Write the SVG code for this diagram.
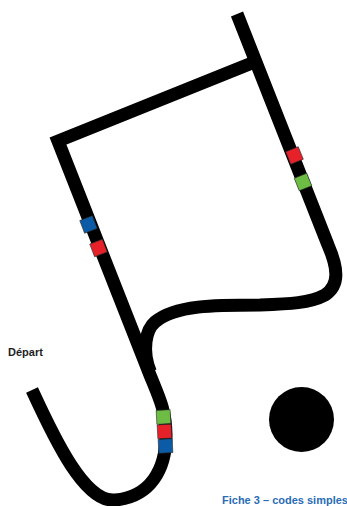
<svg xmlns="http://www.w3.org/2000/svg" width="347" height="506" viewBox="0 0 347 506">
<style>
.track{fill:none;stroke:#000;stroke-width:13;stroke-linejoin:miter;stroke-linecap:butt}
.sq{stroke:#2a2a2a;stroke-width:0.6}
.red{fill:#e62129}
.green{fill:#6dbd45}
.blue{fill:#0b5ba6}
.lbl{font-family:"Liberation Sans",Arial,sans-serif;font-weight:bold;font-size:11px}
</style>
<rect width="347" height="506" fill="#fff"/>
<g id="connectors">
<path id="track-main" class="track" d="M257,61 L58,141 L150,375 C158,395 166,410 166,435 C166,470 150,497 115,500 C85,503 55,440 32,390"/>
<path id="track-right" class="track" d="M237,14 L328,245 C338,268 340,285 325,295 C310,303 290,304 260,305 C215,305 175,305 155,322 C146,329.6 141.5,350 150.4,372"/>
</g>
<g id="codes-right">
<rect class="sq red" x="-6.75" y="-6.75" width="13.5" height="13.5" transform="translate(294.5,155.5) rotate(-22)"/>
<rect class="sq green" x="-6.75" y="-6.75" width="13.5" height="13.5" transform="translate(303,182) rotate(-22)"/>
</g>
<g id="codes-left">
<rect class="sq blue" x="-6.75" y="-6.75" width="13.5" height="13.5" transform="translate(88.5,224.5) rotate(-21)"/>
<rect class="sq red" x="-6.75" y="-6.75" width="13.5" height="13.5" transform="translate(98.5,248) rotate(-21)"/>
</g>
<g id="codes-bottom">
<rect class="sq green" x="-7" y="-7" width="14" height="14" transform="translate(163.5,417) rotate(-3)"/>
<rect class="sq red" x="-7" y="-7" width="14" height="14" transform="translate(164.5,431.5) rotate(-3)"/>
<rect class="sq blue" x="-7" y="-7" width="14" height="14" transform="translate(165.5,446) rotate(-3)"/>
</g>
<g id="goal">
<circle cx="301.5" cy="419.5" r="32.5" fill="#000"/>
</g>
<g id="labels">
<text class="lbl" x="8" y="355.5" fill="#1e1e1e">Départ</text>
<text class="lbl" x="222" y="503.5" fill="#2a6cb5">Fiche 3 – codes simples</text>
</g>
</svg>
